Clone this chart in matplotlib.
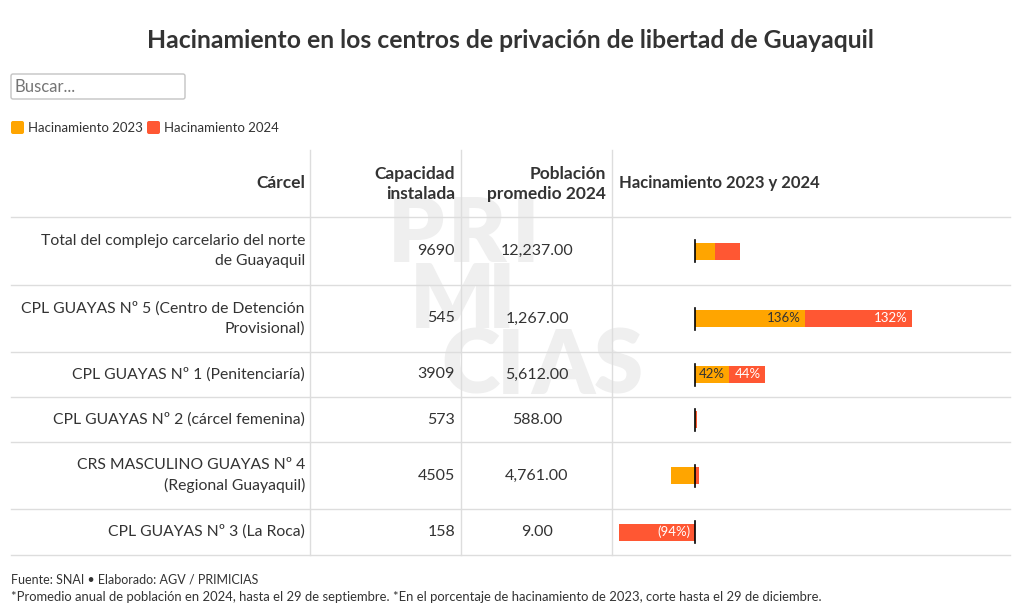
import matplotlib.pyplot as plt
from matplotlib.patches import FancyBboxPatch

plt.rcParams['font.family'] = ['Lato', 'DejaVu Sans']

# datos
carceles = ["Total del complejo carcelario del norte\nde Guayaquil",
            "CPL GUAYAS Nº 5 (Centro de Detención\nProvisional)",
            "CPL GUAYAS Nº 1 (Penitenciaría)",
            "CPL GUAYAS Nº 2 (cárcel femenina)",
            "CRS MASCULINO GUAYAS Nº 4\n(Regional Guayaquil)",
            "CPL GUAYAS Nº 3 (La Roca)"]
capacidad = [9690, 545, 3909, 573, 4505, 158]
poblacion = [12237.00, 1267.00, 5612.00, 588.00, 4761.00, 9.00]
hac_2023 = [25, 136, 42, 1, -30, 0]
hac_2024 = [30, 132, 44, 1, 5, -94]

C23 = '#ffa500'
C24 = '#ff5733'
TXT = '#333333'
GRID = '#dddddd'

W, H = 1020, 616
fig = plt.figure(figsize=(W / 100, H / 100), dpi=100)
ax = fig.add_axes([0, 0, 1, 1])
ax.set_xlim(0, W)
ax.set_ylim(H, 0)
ax.axis('off')

# titulo
ax.text(510, 40, "Hacinamiento en los centros de privación de libertad de Guayaquil",
        ha='center', va='center', fontsize=17.8, fontweight='bold', color=TXT)

# buscador
ax.add_patch(FancyBboxPatch((11, 74), 174, 25, boxstyle="round,pad=0,rounding_size=2",
                            fc='white', ec='#c4c4c4', lw=1))
ax.text(15, 87, "Buscar...", ha='left', va='center', fontsize=12, color='#757575')

# leyenda
for x0, col, lab in [(11, C23, "Hacinamiento 2023"), (147, C24, "Hacinamiento 2024")]:
    ax.add_patch(FancyBboxPatch((x0, 121), 13, 13, boxstyle="round,pad=0,rounding_size=2",
                                fc=col, ec='none'))
    ax.text(x0 + 17, 128, lab, ha='left', va='center', fontsize=9.5, color=TXT)

# tabla
row_h = [68, 67, 45, 45, 67, 46]
top = 217
edges = [top]
for h in row_h:
    edges.append(edges[-1] + h)
centers = [(edges[i] + edges[i + 1]) / 2 for i in range(len(row_h))]

for y in edges:
    ax.plot([11, 1010], [y, y], color=GRID, lw=1, zorder=1)
for x in [310, 461, 612]:
    ax.plot([x, x], [150, edges[-1]], color=GRID, lw=1, zorder=1)

# marca de agua
for txt, x, y in [("PRI", 388, 236), ("MI", 410, 302), ("CIAS", 441, 368)]:
    step = 0
    for ch in txt:
        ax.text(x + step, y, ch, ha='left', va='center', fontsize=64,
                fontweight='heavy', color='#efefef', zorder=0)
        step += {'P': 60, 'R': 64, 'I': 34, 'M': 78, 'C': 56, 'A': 63, 'S': 58}[ch]

hdr = dict(fontsize=12.5, fontweight='bold', color=TXT, va='center', linespacing=1.38)
ax.text(305, 183, "Cárcel", ha='right', **hdr)
ax.text(455, 184, "Capacidad\ninstalada", ha='right', multialignment='right', **hdr)
ax.text(606, 184, "Población\npromedio 2024", ha='right', multialignment='right', **hdr)
ax.text(619, 183, "Hacinamiento 2023 y 2024", ha='left', fontsize=12, fontweight='bold',
        color=TXT, va='center')

for i, yc in enumerate(centers):
    ax.text(305, yc, carceles[i], ha='right', va='center', multialignment='right',
            fontsize=11.3, color=TXT, linespacing=1.55)
    ax.text(455, yc, f"{capacidad[i]}", ha='right', va='center', fontsize=11.5, color=TXT)
    ax.text(537, yc, f"{poblacion[i]:,.2f}", ha='center', va='center', fontsize=11.5, color=TXT)

# barras de hacinamiento
px_per_pct = 0.81
x_zero = 695
bax = fig.add_axes([612 / W, 1 - edges[-1] / H, (1010 - 612) / W, (edges[-1] - top) / H])
bax.set_xlim((612 - x_zero) / px_per_pct, (1010 - x_zero) / px_per_pct)
bax.set_ylim(edges[-1], top)
bax.axis('off')
bax.patch.set_alpha(0)

bh = 17
for i, yc in enumerate(centers):
    a, b = hac_2023[i], hac_2024[i]
    left_b = a if (a >= 0) == (b >= 0) else 0
    bax.barh(yc, a, left=0, height=bh, color=C23, zorder=2)
    bax.barh(yc, b, left=left_b, height=bh, color=C24, zorder=2)
    bax.plot([0, 0], [yc - 11, yc + 11], color='black', lw=1.2, zorder=3)
    for val, start, col, tc in [(a, 0, C23, TXT), (b, left_b, C24, 'white')]:
        if abs(val) >= 35:
            end = start + val
            lab = f"{val}%" if val >= 0 else f"({abs(val)}%)"
            xe = max(start, end) - 4 / px_per_pct
            bax.text(xe, yc, lab, ha='right', va='center', fontsize=9.5, color=tc, zorder=4)

# notas
ax.text(11, 579, "Fuente: SNAI • Elaborado: AGV / PRIMICIAS", ha='left', va='center',
        fontsize=9.0, color=TXT)
ax.text(11, 597, "*Promedio anual de población en 2024, hasta el 29 de septiembre. "
        "*En el porcentaje de hacinamiento de 2023, corte hasta el 29 de diciembre.",
        ha='left', va='center', fontsize=9.4, color=TXT)

fig.savefig("out.png", dpi=100)
